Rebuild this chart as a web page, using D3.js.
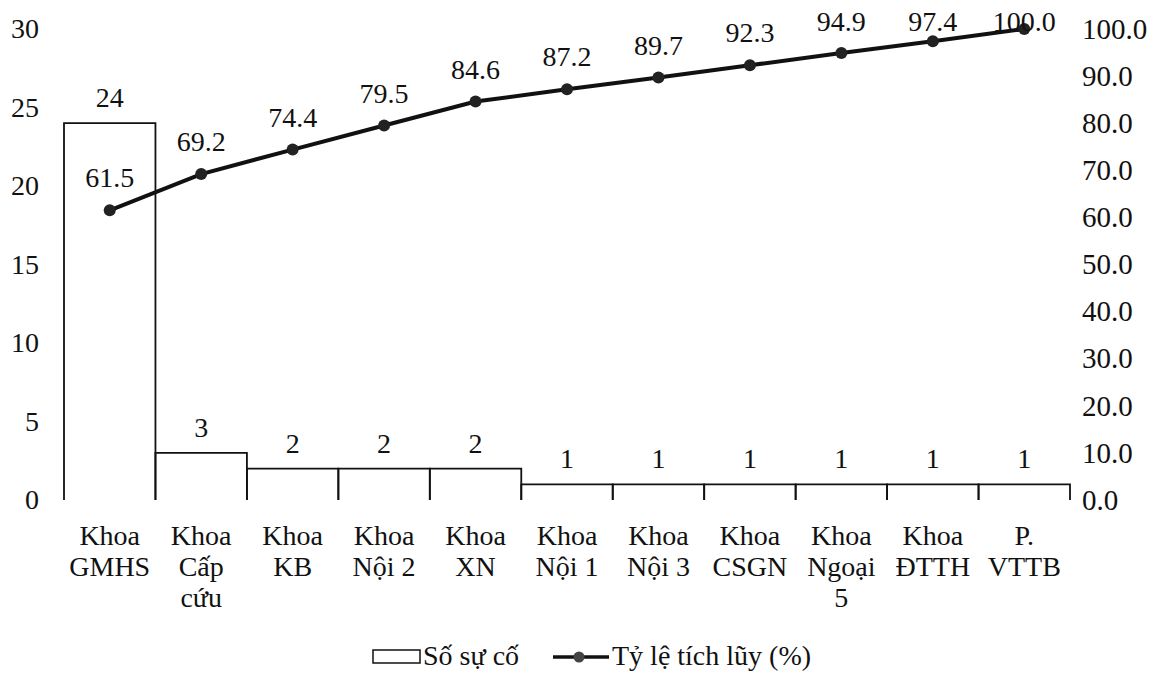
<!DOCTYPE html>
<html>
<head>
<meta charset="utf-8">
<script src="https://cdn.jsdelivr.net/npm/d3@7"></script>
</head>
<body style="margin:0; background:#fff">
<svg class="chart" width="1165" height="673"></svg>
<script>
// data
var categories = [["Khoa", "GMHS"], ["Khoa", "Cấp", "cứu"], ["Khoa", "KB"], ["Khoa", "Nội 2"], ["Khoa", "XN"],
  ["Khoa", "Nội 1"], ["Khoa", "Nội 3"], ["Khoa", "CSGN"], ["Khoa", "Ngoại", "5"], ["Khoa", "ĐTTH"], ["P.", "VTTB"]];
var counts = [24, 3, 2, 2, 2, 1, 1, 1, 1, 1, 1];
var cumPct = [61.5, 69.2, 74.4, 79.5, 84.6, 87.2, 89.7, 92.3, 94.9, 97.4, 100.0];
var leftTicks = [0, 5, 10, 15, 20, 25, 30];
var rightTicks = [0, 10, 20, 30, 40, 50, 60, 70, 80, 90, 100];

var FONT = "'Liberation Serif'";
var FS = 28;

var svg = d3.select(".chart"),
    margin = {top: 29, right: 95, bottom: 173, left: 64},
    width = +svg.attr("width") - margin.left - margin.right,
    height = +svg.attr("height") - margin.top - margin.bottom,
    g = svg.append("g").attr("transform", "translate(" + margin.left + "," + margin.top + ")");

function txt(sel, size) {
  return sel.style("font-family", FONT).style("font-size", (size || FS) + "px").attr("fill", "#111");
}

var x = d3.scaleBand()
    .domain(d3.range(categories.length))
    .range([0, width])
    .paddingInner(0)
    .paddingOuter(0);

var y = d3.scaleLinear().domain([0, 30]).range([height, 0]);
var y2 = d3.scaleLinear().domain([0, 100]).range([height, 0]);

// bars: top + sides only (no base line in the original)
g.append("g")
  .selectAll("path")
  .data(counts)
  .enter().append("path")
    .attr("d", function(d, i) {
      var x0 = x(i), x1 = x(i) + x.bandwidth();
      return "M" + x0 + "," + height + "V" + y(d) + "H" + x1 + "V" + height;
    })
    .attr("fill", "none")
    .attr("stroke", "#111")
    .attr("stroke-width", 1.8);

txt(g.append("g")
  .selectAll("text")
  .data(counts)
  .enter().append("text")
    .attr("x", function(d, i) { return x(i) + x.bandwidth() / 2; })
    .attr("y", function(d) { return y(d) - 16; })
    .attr("text-anchor", "middle"))
    .text(function(d) { return d; });

// left axis
var yAxis = g.append("g")
    .call(d3.axisLeft(y).tickValues(leftTicks).tickSize(0).tickPadding(25));
yAxis.select(".domain").remove();
txt(yAxis.selectAll("text"));

// right axis
var yAxis2 = g.append("g")
    .attr("transform", "translate(" + width + ",0)")
    .call(d3.axisRight(y2).tickValues(rightTicks).tickSize(0).tickPadding(12).tickFormat(d3.format(".1f")));
yAxis2.select(".domain").remove();
txt(yAxis2.selectAll("text"), 29);

// category labels
var cat = txt(g.append("g")
  .selectAll("text")
  .data(categories)
  .enter().append("text")
    .attr("x", function(d, i) { return x(i) + x.bandwidth() / 2; })
    .attr("y", height + 45)
    .attr("text-anchor", "middle"));
cat.selectAll("tspan")
  .data(function(d) { return d; })
  .enter().append("tspan")
    .attr("x", function() { return d3.select(this.parentNode).attr("x"); })
    .attr("dy", function(d, i) { return i === 0 ? 0 : 31; })
    .text(function(d) { return d; });

// cumulative line
var line = d3.line()
    .x(function(d, i) { return x(i) + x.bandwidth() / 2; })
    .y(function(d) { return y2(d); });

g.append("path")
    .datum(cumPct)
    .attr("d", line)
    .attr("fill", "none")
    .attr("stroke", "#111")
    .attr("stroke-width", 4);

g.append("g")
  .selectAll("circle")
  .data(cumPct)
  .enter().append("circle")
    .attr("cx", function(d, i) { return x(i) + x.bandwidth() / 2; })
    .attr("cy", function(d) { return y2(d); })
    .attr("r", 6)
    .attr("fill", "#222");

// point labels (top one sits on the line, as in the original)
txt(g.append("g")
  .selectAll("text")
  .data(cumPct)
  .enter().append("text")
    .attr("x", function(d, i) { return x(i) + x.bandwidth() / 2; })
    .attr("y", function(d) { return Math.max(y2(d) - 23, 2); })
    .attr("text-anchor", "middle"))
    .text(function(d) { return d3.format(".1f")(d); });

// legend
var legend = svg.append("g").attr("transform", "translate(373,665)");
legend.append("rect")
    .attr("x", 0).attr("y", -15)
    .attr("width", 47).attr("height", 13)
    .attr("fill", "#fff").attr("stroke", "#111").attr("stroke-width", 1.5);
txt(legend.append("text")
    .attr("x", 50).attr("y", 0))
    .text("Số sự cố");
legend.append("line")
    .attr("x1", 180).attr("x2", 236).attr("y1", -8).attr("y2", -8)
    .attr("stroke", "#111").attr("stroke-width", 3.5);
legend.append("circle")
    .attr("cx", 206).attr("cy", -8).attr("r", 5.5).attr("fill", "#444");
txt(legend.append("text")
    .attr("x", 239).attr("y", 0))
    .text("Tỷ lệ tích lũy (%)");
</script>
</body>
</html>
